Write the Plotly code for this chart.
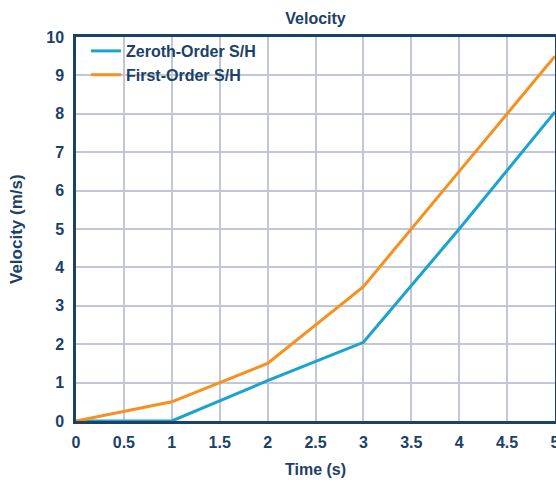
import plotly.graph_objects as go

time_s = [0, 1, 2, 3, 4, 5]
zeroth_order = [0, 0, 1.05, 2.05, 5.0, 8.05]
first_order = [0, 0.5, 1.5, 3.5, 6.5, 9.5]
series_names = ["Zeroth-Order S/H", "First-Order S/H"]
x_ticks = [0, 0.5, 1, 1.5, 2, 2.5, 3, 3.5, 4, 4.5, 5]
y_ticks = list(range(0, 11))

navy = "#1B4168"
grid = "#C3C6D6"
fam = "Liberation Sans, Arial, sans-serif"

W, H = 556, 480
ml, mr, mt, mb = 76, 1, 37, 59
pw, ph = W - ml - mr, H - mt - mb

fig = go.Figure()
fig.add_trace(go.Scatter(x=time_s, y=zeroth_order, mode="lines", name=series_names[0],
                         line=dict(color="#1AA3CF", width=3)))
fig.add_trace(go.Scatter(x=time_s, y=first_order, mode="lines", name=series_names[1],
                         line=dict(color="#F7901E", width=3)))

fig.update_layout(
    width=W, height=H,
    margin=dict(l=ml, r=mr, t=mt, b=mb, autoexpand=False),
    paper_bgcolor="white", plot_bgcolor="white",
    font=dict(family=fam, size=15, color=navy, weight="bold"),
    title=dict(text="Velocity", xref="paper", x=0.5, xanchor="center",
               yref="container", y=1 - 18 / H, yanchor="middle",
               font=dict(family=fam, size=16, color=navy, weight="bold")),
    legend=dict(x=10 / pw, y=1 + 3 / ph, xanchor="left", yanchor="top",
                bgcolor="rgba(255,255,255,0)",
                font=dict(family=fam, size=16, color=navy, weight="bold"),
                itemwidth=30, tracegroupgap=0),
    showlegend=True,
    annotations=[
        dict(text="Time (s)", xref="paper", yref="paper", x=0.5, y=-48 / ph,
             xanchor="center", yanchor="middle", showarrow=False,
             font=dict(family=fam, size=16, color=navy, weight="bold")),
        dict(text="Velocity (m/s)", xref="paper", yref="paper", x=-60 / pw, y=0.5,
             xanchor="center", yanchor="middle", showarrow=False, textangle=-90,
             font=dict(family=fam, size=17, color=navy, weight="bold")),
    ],
)
fig.update_xaxes(range=[0, 5], tickvals=x_ticks, showgrid=True, gridcolor=grid, gridwidth=1.5,
                 showline=True, linecolor=navy, linewidth=2.5, mirror=True, ticks="",
                 zeroline=False, automargin=False, ticklabelstandoff=5,
                 ticklabeloverflow="allow",
                 tickfont=dict(family=fam, size=16, color=navy, weight="bold"))
fig.update_yaxes(range=[0, 10], tickvals=y_ticks, showgrid=True, gridcolor=grid, gridwidth=1.5,
                 showline=True, linecolor=navy, linewidth=2.5, mirror=True, ticks="",
                 zeroline=False, automargin=False, ticklabelstandoff=6,
                 tickfont=dict(family=fam, size=16, color=navy, weight="bold"))

fig.write_html("out.html", config={"displayModeBar": False},
               post_script="document.body.style.margin='0';document.body.style.overflow='hidden';")
